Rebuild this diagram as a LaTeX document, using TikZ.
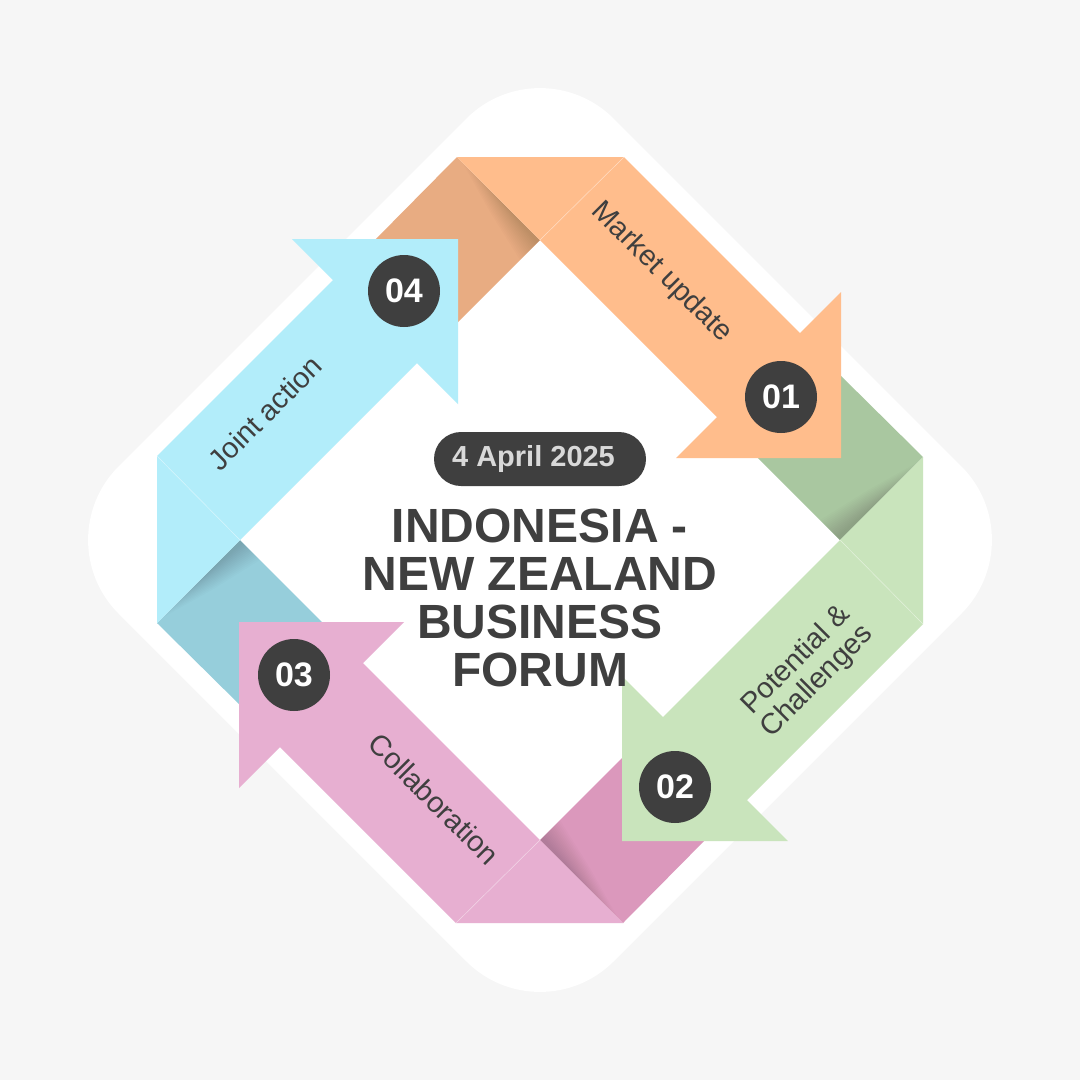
\documentclass[tikz,border=0pt]{standalone}
\usepackage{fontspec}
\setmainfont{Liberation Sans}
\definecolor{pagegrey}{HTML}{F6F6F6}
\definecolor{inkgrey}{HTML}{3F3F3F}
\definecolor{dategrey}{HTML}{D9D9D9}
\definecolor{orangeband}{HTML}{FFBD8C}
\definecolor{orangefold}{HTML}{E8AC82}
\definecolor{greenband}{HTML}{C9E4BC}
\definecolor{greenfold}{HTML}{A9C7A0}
\definecolor{pinkband}{HTML}{E7AFD1}
\definecolor{pinkfold}{HTML}{DB98BC}
\definecolor{blueband}{HTML}{B2EDFA}
\definecolor{bluefold}{HTML}{96CEDB}
\tikzset{
  badge/.style={circle,fill=inkgrey,text=white,minimum size=72pt,inner sep=0pt,font=\fontsize{34}{34}\selectfont\bfseries},
  bandlabel/.style={text=inkgrey,align=center,font=\fontsize{29}{30}\selectfont},
}

\begin{document}
\begin{tikzpicture}[x=1pt,y=-1pt]
  \useasboundingbox (0,0) rectangle (1080,1080);
  \fill[pagegrey] (0,0) rectangle (1080,1080);
  \fill[white,rounded corners=104pt] (540,45) -- (1035,540) -- (540,1035) -- (45,540) -- cycle;
  % folded parts go under the heads
  \foreach \ang/\foldcol in {0/orangefold,-90/greenfold,180/pinkfold,90/bluefold} {
    \begin{scope}[rotate around={\ang:(540,540)}]
      \fill[\foldcol] (457,157) -- (540,240) -- (450,330) -- (370,245) -- cycle;
      \foreach \k in {0,...,13} {
        \pgfmathsetmacro{\st}{462+3*\k}
        \pgfmathsetmacro{\wd}{20-1.3*\k}
        \fill[black,opacity=0.012] (\st,\st-300) -- (540,240) -- (540-\wd,240+\wd)
          -- ({(\st+540)/2-0.55*\wd},{(\st+240+300)/2-300+0.55*\wd}) -- cycle;
      }
    \end{scope}
  }
  \foreach \ang/\bandcol in {0/orangeband,-90/greenband,180/pinkband,90/blueband} {
    \begin{scope}[rotate around={\ang:(540,540)}]
      \fill[\bandcol] (457,157) -- (624,157) -- (800,333) -- (841,292) -- (841,458) -- (676,458) -- (717,417) -- (540,240) -- cycle;
      \draw[white,opacity=0.5,line width=0.5pt] (540,240) -- (624,157);
    \end{scope}
  }
  \node[bandlabel,rotate=-45] (market) at (661.5,272.5) {Market update};
  \node[bandlabel,rotate=45] (potential) at (807,671) {Potential \&\\Challenges};
  \node[bandlabel,rotate=-45] (collab) at (434,799) {Collaboration};
  \node[bandlabel,rotate=45] (joint) at (265,413) {Joint action};
  \node[badge] (one) at (781,397) {01};
  \node[badge] (two) at (675,787) {02};
  \node[badge] (three) at (294,675) {03};
  \node[badge] (four) at (404,291) {04};
  \node[fill=inkgrey,text=dategrey,rounded corners=27pt,minimum width=212pt,minimum height=54pt,inner sep=0pt,font=\fontsize{29}{29}\selectfont\bfseries] (date) at (540,459) {4 April 2025\kern13pt\relax};
  \node[text=inkgrey,align=center,inner sep=0pt,font=\fontsize{48}{48}\selectfont\bfseries] (title) at (540,598) {INDONESIA -\\NEW ZEALAND\\BUSINESS\\FORUM};
\end{tikzpicture}
\end{document}
